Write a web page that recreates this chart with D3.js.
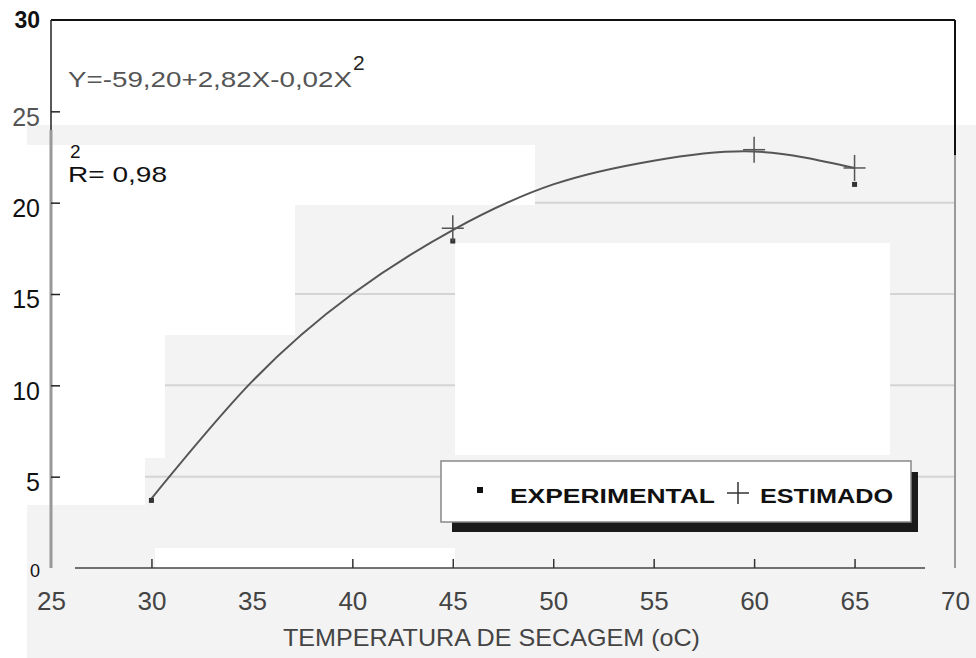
<!DOCTYPE html>
<html>
<head>
<meta charset="utf-8">
<script src="https://cdn.jsdelivr.net/npm/d3@7"></script>
<style>
  body { margin: 0; background: #fff; }
  svg { display: block; font-family: "Liberation Sans", Arial, sans-serif; }
  .axis path { display: none; }
</style>
</head>
<body>
<svg width="976" height="658"></svg>
<script>
// values
var xTicks = [25, 30, 35, 40, 45, 50, 55, 60, 65, 70];
var yTicks = [0, 5, 10, 15, 20, 25, 30];
var curveTemp = [30, 35, 40, 45, 50, 55, 60, 65];
var curveVal = [3.8, 10.2, 15.0, 18.5, 21.0, 22.3, 22.8, 21.9];
var expTemp = [30, 45, 65];
var expVal = [3.7, 17.9, 21.0];
var estTemp = [45, 60, 65];
var estVal = [18.6, 22.9, 21.9];
var gridVals = [5, 10, 15, 20];

var svg = d3.select("svg");

var x = d3.scaleLinear().domain([25, 70]).range([51, 955]),
    y = d3.scaleLinear().domain([0, 30]).range([568, 20]);

// scan background: faint grey paper with lighter patches
svg.append("rect").attr("x", 27).attr("y", 125).attr("width", 949).attr("height", 533).attr("fill", "#f3f3f3");

svg.append("g").selectAll("line").data(gridVals)
  .enter().append("line")
    .attr("x1", x(25)).attr("x2", x(70))
    .attr("y1", function(d) { return y(d); })
    .attr("y2", function(d) { return y(d); })
    .attr("stroke", "#d4d4d4").attr("stroke-width", 2);

var patches = [
  [0, 145, 535, 60], [0, 205, 295, 130], [0, 335, 165, 123], [0, 458, 145, 47],
  [455, 243, 435, 212], [155, 548, 300, 20]
];
svg.append("g").selectAll("rect").data(patches)
  .enter().append("rect")
    .attr("x", function(d) { return d[0]; }).attr("y", function(d) { return d[1]; })
    .attr("width", function(d) { return d[2]; }).attr("height", function(d) { return d[3]; })
    .attr("fill", "#fff");

// frame
svg.append("line").attr("x1", x(25)).attr("x2", x(70)).attr("y1", y(30)).attr("y2", y(30))
  .attr("stroke", "#111").attr("stroke-width", 2);
svg.append("line").attr("x1", x(70)).attr("x2", x(70)).attr("y1", y(30)).attr("y2", 155)
  .attr("stroke", "#111").attr("stroke-width", 2);
svg.append("line").attr("x1", x(70)).attr("x2", x(70)).attr("y1", 155).attr("y2", y(0))
  .attr("stroke", "#9a9a9a").attr("stroke-width", 2);
svg.append("line").attr("x1", x(25)).attr("x2", x(25)).attr("y1", y(30)).attr("y2", 130)
  .attr("stroke", "#222").attr("stroke-width", 1.5);
svg.append("line").attr("x1", x(25)).attr("x2", x(25)).attr("y1", 130).attr("y2", y(0))
  .attr("stroke", "#999").attr("stroke-width", 3);
svg.append("line").attr("x1", 75).attr("x2", 925).attr("y1", y(0)).attr("y2", y(0))
  .attr("stroke", "#444").attr("stroke-width", 1.5);

// axes
var yAxis = svg.append("g")
    .attr("class", "axis")
    .attr("transform", "translate(" + x(25) + ",0)")
    .call(d3.axisLeft(y).tickValues(yTicks).tickSize(-9).tickPadding(11))
    .attr("font-size", 25)
    .attr("font-family", null);
yAxis.selectAll(".tick line").attr("stroke", "#222").attr("stroke-width", 1.5)
  .filter(function(d) { return d === 0 || d === 30; }).remove();
yAxis.selectAll(".tick text")
    .attr("dy", "0.55em")
    .attr("fill", function(d) { return d === 25 ? "#555" : "#111"; });
yAxis.selectAll(".tick text").filter(function(d) { return d === 30; })
    .attr("dy", "0.33em").attr("font-size", 23).attr("font-weight", "bold");
yAxis.selectAll(".tick text").filter(function(d) { return d === 0; })
    .attr("dy", "0.45em").attr("font-size", 18);

var xAxis = svg.append("g")
    .attr("class", "axis")
    .attr("transform", "translate(0," + y(0) + ")")
    .call(d3.axisBottom(x).tickValues(xTicks).tickSize(-9).tickPadding(24))
    .attr("font-size", 26)
    .attr("font-family", null);
xAxis.selectAll(".tick line").attr("stroke", "#333").attr("stroke-width", 1.5)
  .filter(function(d) { return d === 25 || d === 35 || d === 70; }).remove();
xAxis.selectAll(".tick text").attr("fill", "#444");

svg.append("text")
    .attr("x", 283).attr("y", 646)
    .attr("textLength", 417).attr("lengthAdjust", "spacingAndGlyphs")
    .attr("fill", "#444")
    .style("font-size", "24px")
    .text("TEMPERATURA DE SECAGEM (oC)");

// fitted curve
var line = d3.line()
    .curve(d3.curveNatural)
    .x(function(d, i) { return x(curveTemp[i]); })
    .y(function(d) { return y(d); });

svg.append("path")
    .datum(curveVal)
    .attr("d", line)
    .attr("fill", "none")
    .attr("stroke", "#555")
    .attr("stroke-width", 2);

// experimental points
svg.append("g").selectAll("rect").data(expVal)
  .enter().append("rect")
    .attr("x", function(d, i) { return x(expTemp[i]) - 2.5; })
    .attr("y", function(d) { return y(d) - 2.5; })
    .attr("width", 5).attr("height", 5)
    .attr("fill", "#333");

// estimated points
var est = svg.append("g").selectAll("g").data(estVal)
  .enter().append("g")
    .attr("transform", function(d, i) { return "translate(" + x(estTemp[i]) + "," + y(d) + ")"; });
est.append("line").attr("x1", -11).attr("x2", 11).attr("stroke", "#555").attr("stroke-width", 1.5);
est.append("line").attr("y1", -13).attr("y2", 13).attr("stroke", "#555").attr("stroke-width", 1.5);

// equation and R2
svg.append("text").attr("x", 68).attr("y", 87)
    .attr("textLength", 284).attr("lengthAdjust", "spacingAndGlyphs")
    .attr("fill", "#555").style("font-size", "22px")
    .text("Y=-59,20+2,82X-0,02X");
svg.append("text").attr("x", 353).attr("y", 70)
    .attr("fill", "#222").style("font-size", "21px")
    .text("2");
svg.append("text").attr("x", 68).attr("y", 182)
    .attr("textLength", 99).attr("lengthAdjust", "spacingAndGlyphs")
    .attr("fill", "#111").style("font-size", "22px")
    .text("R= 0,98");
svg.append("text").attr("x", 70).attr("y", 158)
    .attr("fill", "#111").style("font-size", "19px")
    .text("2");

// legend
var lg = svg.append("g");
lg.append("rect").attr("x", 452).attr("y", 472).attr("width", 466).attr("height", 60).attr("fill", "#1a1a1a");
lg.append("rect").attr("x", 441).attr("y", 461).attr("width", 470).attr("height", 61)
    .attr("fill", "#fff").attr("stroke", "#888").attr("stroke-width", 1.5);
lg.append("rect").attr("x", 477).attr("y", 487).attr("width", 6).attr("height", 6).attr("fill", "#111");
lg.append("text").attr("x", 510).attr("y", 503)
    .attr("textLength", 205).attr("lengthAdjust", "spacingAndGlyphs")
    .attr("fill", "#111")
    .style("font-size", "20px").style("font-weight", "bold").text("EXPERIMENTAL");
lg.append("line").attr("x1", 727).attr("x2", 749).attr("y1", 493).attr("y2", 493).attr("stroke", "#333").attr("stroke-width", 1.5);
lg.append("line").attr("x1", 738).attr("x2", 738).attr("y1", 482).attr("y2", 504).attr("stroke", "#333").attr("stroke-width", 1.5);
lg.append("text").attr("x", 760).attr("y", 503)
    .attr("textLength", 133).attr("lengthAdjust", "spacingAndGlyphs")
    .attr("fill", "#111")
    .style("font-size", "20px").style("font-weight", "bold").text("ESTIMADO");
</script>
</body>
</html>
